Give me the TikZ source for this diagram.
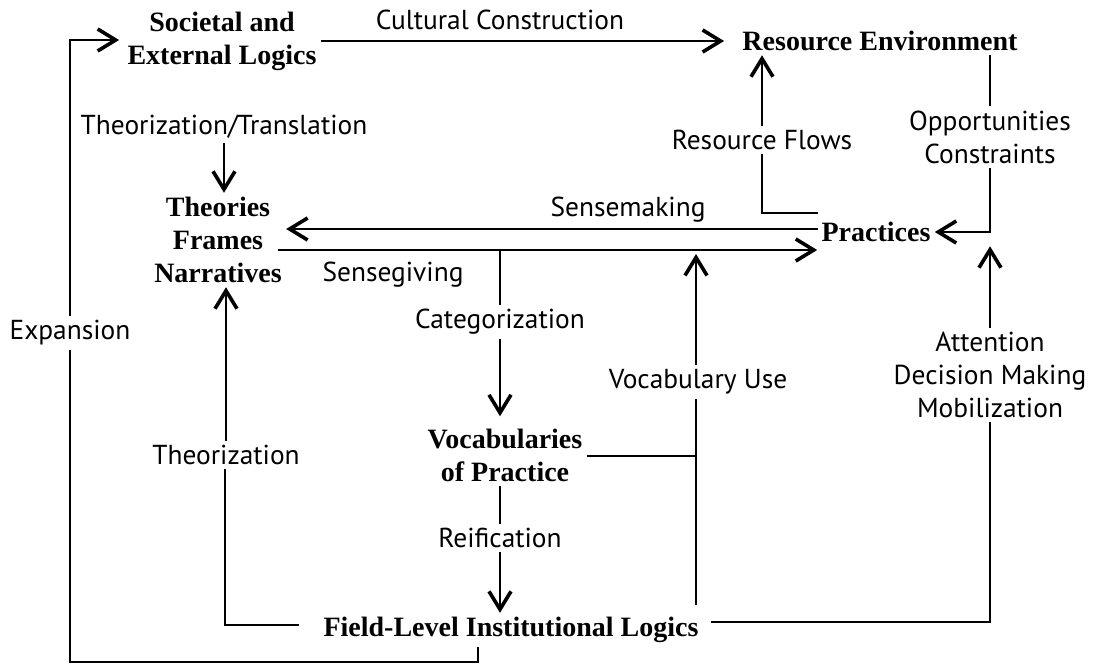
\documentclass[tikz,border=0pt]{standalone}
\usepackage{fontspec}
\setmainfont{Liberation Serif}
\setsansfont{PT Sans}
\usetikzlibrary{arrows.meta}

\begin{document}
\begin{tikzpicture}[x=0.5pt, y=-0.5pt,
    logic/.style={font=\fontsize{14}{16.5}\selectfont\bfseries, align=center, inner sep=2pt},
    flow/.style={font=\sffamily\fontsize{13.7}{16.5}\selectfont, align=center, inner sep=2pt},
    link/.style={line width=1pt},
    arr/.style={link, -{Straight Barb[length=9pt,width=11pt,line width=1.8pt]}}]
  \useasboundingbox (0,0) rectangle (1102,670);

  % Logics
  \node[logic] (soc) at (222,41) {Societal and\\External Logics};
  \node[logic] (res) at (880,41) {Resource Environment};
  \node[logic] (theo) at (218,240) {Theories\\Frames\\Narratives};
  \node[logic] (prac) at (876,232) {Practices};
  \node[logic] (vocab) at (505,455) {Vocabularies\\of Practice};
  \node[logic] (field) at (511,630) {Field-Level Institutional Logics};

  % Labels
  \node[flow] (cult) at (500,20) {Cultural Construction};
  \node[flow] (trans) at (224,127) {Theorization/Translation};
  \node[flow] (rflow) at (762,140) {Resource Flows};
  \node[flow] (opp) at (990,137) {Opportunities\\Constraints};
  \node[flow] (smake) at (628,210) {Sensemaking};
  \node[flow] (sgive) at (393,275) {Sensegiving};
  \node[flow] (categ) at (500,322) {Categorization};
  \node[flow] (expan) at (70,333) {Expansion};
  \node[flow] (vuse) at (698,382) {Vocabulary Use};
  \node[flow] (attn) at (990,375) {Attention\\Decision Making\\Mobilization};
  \node[flow] (theor) at (226,455) {Theorization};
  \node[flow] (reif) at (500,538) {Reification};

  % Corners
  \coordinate (looptop) at (70,40);
  \coordinate (loopbot) at (478,662);
  \coordinate (rfend) at (818,213);
  \coordinate (smstart) at (818,229);
  \coordinate (sgstart) at (278,250);
  \coordinate (catjoin) at (500,250);
  \coordinate (vujoin) at (696,456);
  \coordinate (vubot) at (696,605);
  \coordinate (thcorner) at (225,625);
  \coordinate (atcorner) at (990,622);

  % Edges
  \draw[arr, shorten >=7pt] (soc.east) -- (res.west);
  \draw[arr] (trans.south) -- (trans.south |- theo.north);
  \draw[arr] (rflow.north) -- (rflow.north |- res.south);
  \draw[link] (rflow.south) |- (rfend);
  \draw[link] (opp.north |- res.south) -- (opp.north);
  \draw[arr] (opp.south) |- (prac.east);
  \draw[arr] (smstart) -- (smstart -| theo.east);
  \draw[arr] (sgstart) -- (sgstart -| prac.west);
  \draw[link] (catjoin) -- (categ.north);
  \draw[arr, shorten >=4pt] (categ.south) -- (categ.south |- vocab.north);
  \draw[link] (vocab.east |- vujoin) -- (vujoin);
  \draw[link] (vubot) -- (vuse.south -| vubot);
  \draw[arr, shorten >=2pt] (vuse.north -| vubot) -- (vubot |- sgstart);
  \draw[link] (vocab.south -| reif) -- (reif.north);
  \draw[arr] (reif.south) -- (reif.south |- field.north);
  \draw[link] (field.south -| loopbot) -- (loopbot) -- (loopbot -| expan) -- (expan.south);
  \draw[arr, shorten >=2pt] (expan.north) -- (looptop) -- (looptop -| soc.west);
  \draw[link, shorten <=10pt] (thcorner -| field.west) -- (thcorner) -- (theor.south -| thcorner);
  \draw[arr] (theor.north) -- (theor.north |- theo.south);
  \draw[link, shorten <=4pt] (atcorner -| field.east) -- (atcorner) -- (attn.south);
  \draw[arr] (attn.north) -- (attn.north |- prac.south);
\end{tikzpicture}
\end{document}
